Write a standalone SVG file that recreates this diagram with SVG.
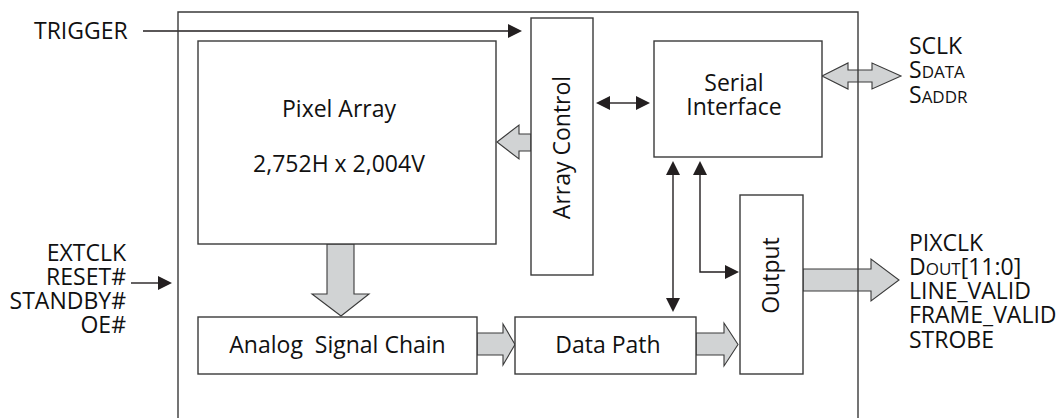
<svg xmlns="http://www.w3.org/2000/svg" width="1064" height="418" viewBox="0 0 1064 418">
<style>
.box{fill:#fff;stroke:#3a3a3a;stroke-width:1.4}
.frame{fill:none;stroke:#3a3a3a;stroke-width:1.4}
.ln{fill:none;stroke:#231f20;stroke-width:1.4}
.hd{fill:#231f20;stroke:none}
.fat{fill:#d1d3d4;stroke:#3a3a3a;stroke-width:1.1;stroke-linejoin:miter}
text{font-family:"Open Sans","Noto Sans","Liberation Sans",sans-serif;font-size:23px;fill:#111}
.c{text-anchor:middle}
.r{text-anchor:end}
.sc{font-size:17px}
</style>
<rect width="1064" height="418" fill="#fff"/>

<g id="connectors">
  <!-- TRIGGER -->
  <line class="ln" x1="143" y1="31" x2="510" y2="31"/>
  <polygon class="hd" points="522,31 508,24 508,38"/>
  <!-- left inputs -->
  <line class="ln" x1="131" y1="283" x2="160" y2="283"/>
  <polygon class="hd" points="172,283 158,276 158,290"/>
  <!-- Array Control <-> Serial Interface -->
  <line class="ln" x1="608" y1="103" x2="638" y2="103"/>
  <polygon class="hd" points="596,103 610,96 610,110"/>
  <polygon class="hd" points="650,103 636,96 636,110"/>
  <!-- Serial Interface <-> Data Path -->
  <line class="ln" x1="673" y1="173" x2="673" y2="300"/>
  <polygon class="hd" points="673,161 666,175 680,175"/>
  <polygon class="hd" points="673,312 666,298 680,298"/>
  <!-- Serial Interface <-> Output -->
  <polyline class="ln" points="700,173 700,272 727,272"/>
  <polygon class="hd" points="700,161 693,175 707,175"/>
  <polygon class="hd" points="739,272 725,265 725,279"/>
  <!-- fat arrows -->
  <polygon class="fat" points="531,134 519,134 519,125 497,142 519,159 519,151 531,151"/>
  <polygon class="fat" points="327,244 354,244 354,294 369,294 341,316 312,294 327,294"/>
  <polygon class="fat" points="477,333 503,333 503,324 515,344.5 503,365 503,355 477,355"/>
  <polygon class="fat" points="696,333 724,333 724,323 738,344.5 724,366 724,355 696,355"/>
  <polygon class="fat" points="803,269 871,269 871,259 899,280 871,301 871,291 803,291"/>
  <polygon class="fat" points="822,76 848,63 848,70 872,70 872,63 901,76 872,89 872,82 848,82 848,89"/>
</g>

<g id="chip">
  <path class="frame" d="M178,420 V12 H858 V420"/>
</g>

<g id="pixel-array">
  <rect class="box" x="198" y="41" width="298" height="203"/>
  <text class="c" x="339" y="117">Pixel Array</text>
  <text class="c" x="339" y="172">2,752H x 2,004V</text>
</g>

<g id="array-control">
  <rect class="box" x="531" y="18" width="62" height="257"/>
  <text class="c" transform="translate(570,147.5) rotate(-90)">Array Control</text>
</g>

<g id="serial-interface">
  <rect class="box" x="654" y="41" width="168" height="116"/>
  <text class="c" x="734" y="91">Serial</text>
  <text class="c" x="734" y="115">Interface</text>
</g>

<g id="output">
  <rect class="box" x="740" y="195" width="63" height="179"/>
  <text class="c" transform="translate(779,275.5) rotate(-90)">Output</text>
</g>

<g id="analog-signal-chain">
  <rect class="box" x="198" y="317" width="279" height="57"/>
  <text class="c" x="337.5" y="353" xml:space="preserve">Analog  Signal Chain</text>
</g>

<g id="data-path">
  <rect class="box" x="515" y="317" width="181" height="57"/>
  <text class="c" x="608" y="353">Data Path</text>
</g>

<g id="trigger-label">
  <text x="34" y="39">TRIGGER</text>
</g>

<g id="control-inputs">
  <text class="r" x="126" y="261">EXTCLK</text>
  <text class="r" x="126" y="285">RESET#</text>
  <text class="r" x="126" y="309">STANDBY#</text>
  <text class="r" x="126" y="333">OE#</text>
</g>

<g id="serial-pins">
  <text x="909" y="54">SCLK</text>
  <text x="909" y="78">S<tspan class="sc">DATA</tspan></text>
  <text x="909" y="103">S<tspan class="sc">ADDR</tspan></text>
</g>

<g id="output-pins">
  <text x="909" y="251">PIXCLK</text>
  <text x="909" y="275">D<tspan class="sc">OUT</tspan>[11:0]</text>
  <text x="909" y="299">LINE_VALID</text>
  <text x="909" y="323">FRAME_VALID</text>
  <text x="909" y="348">STROBE</text>
</g>
</svg>
